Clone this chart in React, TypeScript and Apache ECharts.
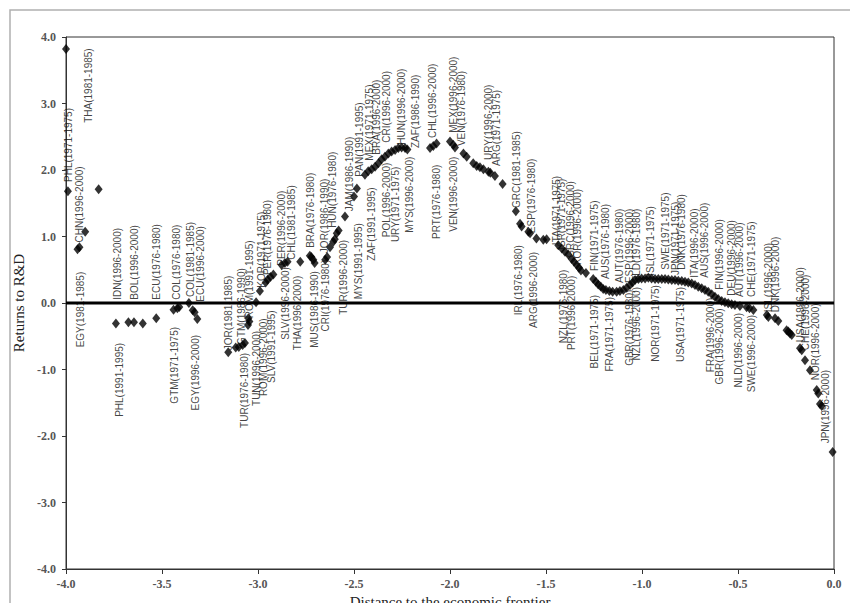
import { useEffect, useRef } from "react";
import * as echarts from "echarts";

// Estimated returns to R&D against distance to the economic frontier (country-period observations)
const pointX = [
  -4.0, -3.99, -3.94, -3.93, -3.9, -3.83, -3.74, -3.675, -3.646, -3.6, -3.53, -3.44, -3.42, -3.41, -3.36,
  -3.34, -3.33, -3.316, -3.155, -3.116, -3.1, -3.08, -3.068, -3.05, -3.052, -3.045, -3.01, -2.99, -2.96,
  -2.95, -2.935, -2.92, -2.877, -2.86, -2.846, -2.78, -2.73, -2.722, -2.712, -2.705, -2.65, -2.64, -2.625,
  -2.608, -2.6, -2.59, -2.58, -2.547, -2.5, -2.485,
  -2.443, -2.426, -2.408, -2.39, -2.373, -2.356, -2.339, -2.321, -2.304, -2.286, -2.269, -2.252, -2.234,
  -2.222, -2.104, -2.087, -2.07, -2.0, -1.983, -1.974, -1.93, -1.913, -1.879, -1.861, -1.844, -1.826, -1.8,
  -1.79, -1.766, -1.726, -1.657, -1.635, -1.627, -1.592, -1.583, -1.55, -1.514, -1.497, -1.436, -1.418,
  -1.401, -1.384, -1.366, -1.354, -1.34, -1.328, -1.318, -1.292,
  -1.254, -1.24, -1.228, -1.215, -1.202, -1.188, -1.17, -1.153, -1.132, -1.115, -1.097, -1.08, -1.0625,
  -1.049, -1.036, -1.019, -1.002, -0.984, -0.967, -0.95, -0.932, -0.915, -0.897, -0.88, -0.863, -0.845,
  -0.828, -0.811, -0.793, -0.776, -0.759, -0.741, -0.724, -0.707, -0.689, -0.672, -0.655, -0.637, -0.62,
  -0.603, -0.585, -0.568, -0.551, -0.533, -0.516, -0.49, -0.455, -0.44, -0.42, -0.35, -0.342, -0.307,
  -0.29, -0.247, -0.238, -0.229, -0.22, -0.177, -0.168, -0.151, -0.125, -0.09, -0.082, -0.073, -0.064,
  -0.007,
];
const pointY = [
  3.82, 1.68, 0.81, 0.84, 1.07, 1.71, -0.31, -0.29, -0.29, -0.31, -0.23, -0.1, -0.08, -0.06, 0.0,
  -0.11, -0.14, -0.24, -0.74, -0.67, -0.66, -0.63, -0.6, -0.23, -0.33, -0.28, 0.01, 0.18, 0.31,
  0.35, 0.39, 0.43, 0.57, 0.6, 0.62, 0.62, 0.71, 0.69, 0.65, 0.6, 0.65, 0.69, 0.84,
  0.92, 0.96, 1.05, 1.09, 1.3, 1.6, 1.72,
  1.93, 1.98, 2.01, 2.05, 2.1, 2.16, 2.2, 2.25, 2.28, 2.3, 2.33, 2.34, 2.33,
  2.31, 2.33, 2.36, 2.4, 2.43, 2.38, 2.34, 2.25, 2.2, 2.1, 2.06, 2.04, 2.01, 1.975,
  1.96, 1.91, 1.79, 1.38, 1.19, 1.15, 1.07, 1.05, 0.97, 0.95, 0.96, 0.87, 0.82,
  0.77, 0.73, 0.66, 0.62, 0.57, 0.53, 0.49, 0.45,
  0.36, 0.32, 0.28, 0.25, 0.21, 0.195, 0.18, 0.17, 0.17, 0.18, 0.195, 0.23, 0.27,
  0.31, 0.345, 0.36, 0.37, 0.37, 0.38, 0.37, 0.36, 0.36, 0.36, 0.36, 0.355, 0.345,
  0.345, 0.335, 0.33, 0.32, 0.31, 0.295, 0.27, 0.245, 0.22, 0.195, 0.17, 0.13, 0.095,
  0.06, 0.03, 0.01, -0.005, -0.02, -0.03, -0.045, -0.065, -0.08, -0.105, -0.18, -0.21, -0.23,
  -0.27, -0.41, -0.43, -0.46, -0.48, -0.68, -0.71, -0.86, -1.01, -1.31, -1.36, -1.52, -1.55,
  -2.24,
];

// Country(period) tags printed upward from their anchor
const upperTags = [
  "PHL(1971-1975)", "CHN(1996-2000)", "THA(1981-1985)", "IDN(1996-2000)", "BOL(1996-2000)",
  "ECU(1976-1980)", "COL(1976-1980)", "COL(1981-1985)", "ECU(1996-2000)", "JOR(1981-1985)",
  "GTM(1986-1990)", "ROM(1991-1995)", "KOR(1971-1975)", "PER(1976-1980)", "PER(1996-2000)",
  "CHL(1981-1985)", "BRA(1976-1980)", "JOR(1986-1990)", "HUN(1976-1980)", "JAM(1986-1990)",
  "PAN(1991-1995)", "MEX(1971-1975)", "BRA(1996-2000)", "CRI(1996-2000)", "HUN(1996-2000)",
  "ZAF(1986-1990)", "CHL(1996-2000)", "MEX(1996-2000)", "VEN(1976-1980)", "URY(1996-2000)",
  "ARG(1971-1975)", "GRC(1981-1985)", "ESP(1976-1980)", "ITA(1971-1975)", "ISR(1971-1975)",
  "GRC(1996-2000)", "KOR(1996-2000)", "FIN(1971-1975)", "AUS(1976-1980)", "AUT(1976-1980)",
  "ESP(1996-2000)", "NLD(1976-1980)", "ISL(1971-1975)", "SWE(1971-1975)", "JPN(1971-1975)",
  "DNK(1976-1980)", "ITA(1996-2000)", "AUS(1996-2000)", "FIN(1996-2000)", "DEU(1996-2000)",
  "AUT(1996-2000)", "CHE(1971-1975)", "ISL(1996-2000)", "DNK(1996-2000)", "USA(1996-2000)",
  "CHE(1996-2000)", "NOR(1996-2000)", "JPN(1996-2000)",
];
const upperTagX = [
  -3.988, -3.932, -3.885, -3.734, -3.641,
  -3.531, -3.424, -3.349, -3.297, -3.154,
  -3.086, -3.042, -2.981, -2.949, -2.88,
  -2.828, -2.729, -2.656, -2.612, -2.526,
  -2.469, -2.417, -2.385, -2.33, -2.252,
  -2.182, -2.091, -1.983, -1.938, -1.797,
  -1.76, -1.653, -1.575, -1.444, -1.418,
  -1.375, -1.337, -1.245, -1.19, -1.115,
  -1.063, -1.028, -0.958, -0.88, -0.823,
  -0.793, -0.729, -0.672, -0.597, -0.533,
  -0.49, -0.432, -0.342, -0.307, -0.177,
  -0.151, -0.094, -0.042,
];
const upperTagY = [
  1.82, 0.91, 2.71, 0.05, 0.05,
  0.05, 0.05, 0.09, 0.02, -0.71,
  -0.63, -0.23, 0.23, 0.42, 0.56,
  0.65, 0.83, 0.75, 1.13, 1.38,
  1.9, 2.14, 2.23, 2.41, 2.38,
  2.33, 2.48, 2.56, 2.36, 2.15,
  2.06, 1.43, 1.05, 0.87, 0.8,
  0.68, 0.57, 0.48, 0.36, 0.3,
  0.3, 0.3, 0.41, 0.5, 0.42,
  0.5, 0.38, 0.38, 0.2, 0.11,
  0.09, 0.09, -0.14, -0.14, -0.59,
  -0.71, -1.16, -2.11,
];

// Country(period) tags printed downward from their anchor
const lowerTags = [
  "EGY(1981-1985)", "PHL(1991-1995)", "GTM(1971-1975)", "EGY(1996-2000)", "TUR(1976-1980)",
  "TUN(1996-2000)", "ROM(1996-2000)", "SLV(1991-1995)", "SLV(1996-2000)", "THA(1996-2000)",
  "MUS(1986-1990)", "CRI(1976-1980)", "TUR(1996-2000)", "MYS(1991-1995)", "ZAF(1991-1995)",
  "POL(1996-2000)", "URY(1971-1975)", "MYS(1996-2000)", "PRT(1976-1980)", "VEN(1996-2000)",
  "IRL(1976-1980)", "ARG(1996-2000)", "NZL(1976-1980)", "PRT(1996-2000)", "BEL(1971-1975)",
  "FRA(1971-1975)", "GBR(1976-1980)", "NZL(1996-2000)", "NOR(1971-1975)", "USA(1971-1975)",
  "FRA(1996-2000)", "GBR(1996-2000)", "NLD(1996-2000)", "SWE(1996-2000)",
];
const lowerTagX = [
  -3.923, -3.722, -3.436, -3.328, -3.068,
  -3.008, -2.969, -2.93, -2.859, -2.794,
  -2.706, -2.646, -2.556, -2.478, -2.408,
  -2.33, -2.286, -2.212, -2.069, -1.983,
  -1.644, -1.566, -1.41, -1.366, -1.245,
  -1.167, -1.066, -1.028, -0.932, -0.798,
  -0.641, -0.597, -0.498, -0.429,
];
const lowerTagY = [
  0.47, -0.6, -0.36, -0.48, -0.75,
  -0.42, -0.23, -0.11, 0.54, 0.41,
  0.48, 0.65, 0.95, 1.2, 1.74,
  2.11, 2.05, 2.2, 2.08, 2.2,
  0.87, 0.77, 0.5, 0.41, 0.12,
  0.09, 0.2, 0.24, 0.27, 0.24,
  0.08, -0.08, -0.15, -0.18,
];

const xTicks = { min: -4, max: 0, step: 0.5 };
const yTicks = { min: -4, max: 4, step: 1 };

const serif = "'Liberation Serif', 'Times New Roman', serif";
const sans = "'Liberation Sans', Arial, sans-serif";

function tagSeries(texts: string[], xs: number[], ys: number[], upward: boolean) {
  return {
    type: "scatter",
    silent: true,
    symbol: "circle",
    symbolSize: 1,
    itemStyle: { color: "rgba(0,0,0,0)" },
    z: 3,
    data: texts.map((t, i) => ({ name: t, value: [xs[i], ys[i]] })),
    label: {
      show: true,
      position: "inside",
      formatter: "{b}",
      rotate: 90,
      align: upward ? "left" : "right",
      verticalAlign: "middle",
      fontFamily: sans,
      fontSize: 10,
      color: "#111",
    },
  };
}

export default function App() {
  const ref = useRef<HTMLDivElement>(null);

  useEffect(() => {
    if (!ref.current) return;
    const chart = echarts.init(ref.current, null, { renderer: "svg" });
    const axisLabel = {
      fontFamily: serif,
      fontSize: 12,
      fontWeight: "bold",
      color: "#555",
      formatter: (v: number) => v.toFixed(1),
    };
    chart.setOption({
      animation: false,
      backgroundColor: "#fff",
      grid: {
        left: 66,
        right: 16,
        top: 37,
        bottom: 34,
        outerBoundsMode: "none",
        containLabel: false,
        show: true,
        borderColor: "#333",
        borderWidth: 1,
      },
      graphic: [
        {
          type: "rect",
          shape: { x: 10, y: 10, width: 900, height: 700 },
          style: { fill: "none", stroke: "#b0b0b0", lineWidth: 1.5 },
          silent: true,
          z: -10,
        },
      ],
      xAxis: {
        type: "value",
        min: xTicks.min,
        max: xTicks.max,
        interval: xTicks.step,
        axisLine: { show: true, onZero: false, lineStyle: { color: "#333", width: 1 } },
        axisTick: { show: true, inside: false, length: 5, lineStyle: { color: "#333" } },
        splitLine: { show: false },
        axisLabel: { ...axisLabel, margin: 9 },
        name: "Distance to the economic frontier",
        nameLocation: "middle",
        nameGap: 22,
        nameTextStyle: { fontFamily: serif, fontSize: 15, color: "#222" },
      },
      yAxis: {
        type: "value",
        min: yTicks.min,
        max: yTicks.max,
        interval: yTicks.step,
        axisLine: { show: true, onZero: false, lineStyle: { color: "#333", width: 1 } },
        axisTick: { show: true, inside: false, length: 4, lineStyle: { color: "#333" } },
        splitLine: { show: false },
        axisLabel: { ...axisLabel, margin: 10 },
        name: "Returns to R&D",
        nameLocation: "middle",
        nameGap: 33,
        nameTextStyle: { fontFamily: serif, fontSize: 15, color: "#222" },
      },
      series: [
        {
          type: "scatter",
          silent: true,
          symbol: "diamond",
          symbolSize: [8, 10],
          itemStyle: { color: "#000" },
          z: 2,
          data: pointX.map((x, i) => [x, pointY[i]]),
        },
        tagSeries(upperTags, upperTagX, upperTagY, true),
        tagSeries(lowerTags, lowerTagX, lowerTagY, false),
        {
          type: "line",
          silent: true,
          symbol: "none",
          z: 10,
          lineStyle: { color: "#000", width: 3 },
          data: [
            [xTicks.min, 0],
            [xTicks.max, 0],
          ],
        },
      ],
    });
    return () => chart.dispose();
  }, []);

  return (
    <div
      ref={ref}
      style={{ position: "absolute", left: 0, top: 0, width: 850, height: 603 }}
    />
  );
}
